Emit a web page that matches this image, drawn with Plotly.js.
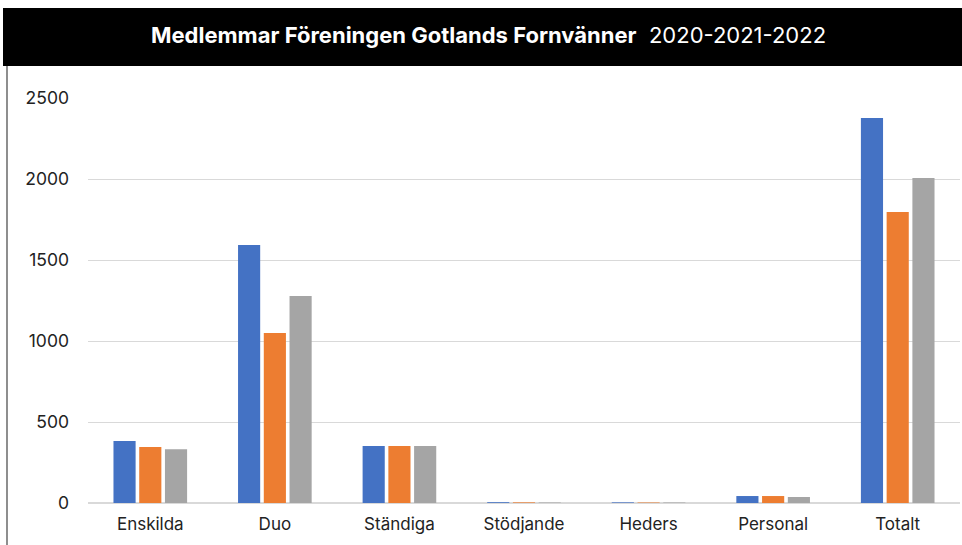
<!DOCTYPE html>
<html><head><meta charset="utf-8">
<script src="https://cdn.plot.ly/plotly-3.0.1.min.js"></script>
<style>html,body{margin:0;padding:0;background:#fff}#chart{width:962px;height:545px}</style>
</head><body><div id="chart"></div>
<script>
const categories = ["Enskilda","Duo","Ständiga","Stödjande","Heders","Personal","Totalt"];
const series2020 = [383, 1593, 352, 5, 4, 43, 2377];
const series2021 = [345, 1049, 352, 4, 3, 43, 1796];
const series2022 = [332, 1278, 352, 3, 3, 37, 2006];
const seriesNames = ["2020","2021","2022"];
const yTicks = [0, 500, 1000, 1500, 2000, 2500];
const colors = ["#4472C4","#ED7D31","#A5A5A5"];

const W = 962, H = 545, L = 88, R = 2, T = 98, B = 42;
const pw = W - L - R, ph = H - T - B;
const px = x => (x - L) / pw;
const py = y => (H - B - y) / ph;

const data = [series2020, series2021, series2022].map((v, i) => ({
  type: "bar", x: categories, y: v, name: seriesNames[i],
  marker: {color: colors[i]}, hoverinfo: "x+y"
}));

const layout = {
  width: W, height: H,
  margin: {l: L, r: R, t: T, b: B},
  paper_bgcolor: "#fff", plot_bgcolor: "#fff",
  showlegend: false,
  barmode: "group", bargap: 0.38, bargroupgap: 0.14,
  font: {family: "Inter, sans-serif", size: 17, color: "#222"},
  xaxis: {showgrid: false, showline: false, ticks: "", ticklabelstandoff: 9, tickfont: {family: "Inter, sans-serif", size: 17, color: "#222"}, fixedrange: true},
  yaxis: {range: [0, 2500], autorange: false, tickvals: yTicks, ticktext: yTicks.map(String),
    showgrid: true, gridcolor: "#d9d9d9", gridwidth: 1, zeroline: true, zerolinecolor: "#d9d9d9", zerolinewidth: 1.5,
    showline: false, ticks: "", ticklabelstandoff: 18, tickfont: {family: "Inter, sans-serif", size: 17.5, color: "#222"}, fixedrange: true},
  shapes: [
    {type: "rect", xref: "paper", yref: "paper", x0: px(3), x1: px(962), y0: py(66), y1: py(8),
     fillcolor: "#000", line: {width: 0}, layer: "above"},
    {type: "line", xref: "paper", yref: "paper", x0: px(7), x1: px(7), y0: py(66), y1: py(545),
     line: {color: "#444", width: 1.2}}
  ],
  annotations: [
    {xref: "paper", yref: "paper", x: px(488), y: py(35), xanchor: "center", yanchor: "middle",
     showarrow: false, text: "<b>Medlemmar Föreningen Gotlands Fornvänner</b>  2020-2021-2022",
     font: {family: "Inter, sans-serif", size: 22, color: "#fff"}}
  ]
};
Plotly.newPlot("chart", data, layout, {displayModeBar: false, staticPlot: true});
</script></body></html>
